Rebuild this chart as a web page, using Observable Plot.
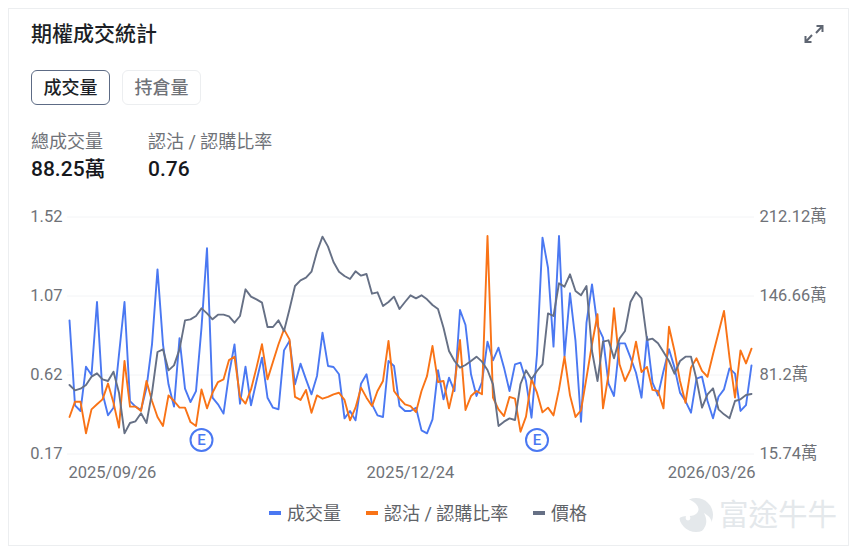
<!DOCTYPE html>
<html lang="zh-Hant">
<head>
<meta charset="utf-8">
<title>期權成交統計</title>
<script src="https://cdn.jsdelivr.net/npm/d3@7"></script>
<script src="https://cdn.jsdelivr.net/npm/@observablehq/plot@0.6"></script>
<style>
html,body{margin:0;padding:0;background:#fff;width:857px;height:552px;overflow:hidden;}
body{font-family:Roboto,"Noto Sans CJK TC",sans-serif;color:#1f2329;position:relative;}
.card{position:absolute;left:8px;top:8px;width:839px;height:536px;border:1px solid #eceef0;box-sizing:content-box;}
.abs{position:absolute;white-space:nowrap;line-height:1;}
.title{left:31px;top:24px;font-size:21px;font-weight:500;color:#1c1f26;}
.btn{top:70px;height:35px;width:79px;box-sizing:border-box;border-radius:6px;font-size:18px;display:flex;align-items:center;justify-content:center;}
.btn.on{left:31px;border:1.5px solid #5d6b85;color:#1c1f26;font-weight:500;}
.btn.off{left:122px;border:1.5px solid #eceef0;color:#6f7278;font-weight:500;}
.lab{top:133px;font-size:18px;color:#6f7278;}
.val{top:159px;font-size:21px;font-weight:500;color:#16181d;}
#chart{position:absolute;left:0;top:200px;}
.sw{position:absolute;top:511px;width:12px;height:4px;}
.leg{top:505px;font-size:18px;color:#5f6368;}
.wm{left:719px;top:501px;font-size:29.5px;color:#e4e8eb;}
</style>
</head>
<body>
<div class="card"></div>
<div class="abs title">期權成交統計</div>
<svg class="abs" style="left:804px;top:24px" width="20" height="20" viewBox="0 0 20 20" fill="none" stroke="#5f6672" stroke-width="2">
  <path d="M12 9 L18 2.5 M12.5 2 H18.5 V8"/><path d="M8 11 L2 17.5 M1.5 12 V18 H7.5"/>
</svg>
<div class="abs btn on">成交量</div>
<div class="abs btn off">持倉量</div>
<div class="abs lab" style="left:31px">總成交量</div>
<div class="abs lab" style="left:148px">認沽 / 認購比率</div>
<div class="abs val" style="left:31px">88.25萬</div>
<div class="abs val" style="left:148px">0.76</div>
<div id="chart"></div>
<div class="sw" style="left:269px;background:#4a78f2"></div>
<div class="abs leg" style="left:287px">成交量</div>
<div class="sw" style="left:366px;background:#f97316"></div>
<div class="abs leg" style="left:384px">認沽 / 認購比率</div>
<div class="sw" style="left:533px;background:#667085"></div>
<div class="abs leg" style="left:551px">價格</div>
<svg class="abs" style="left:677px;top:497px" width="38" height="38" viewBox="0 0 38 38">
  <circle cx="19" cy="18" r="17" fill="#e4e8eb"/>
  <path d="M9 1 C22 6 24 13 19 17 C14 21 5 17 2 22 L0 10 Z M22 37 C30 30 31 24 27 16 C34 20 38 26 32 34 Z" fill="#fff"/>
  <circle cx="11" cy="21" r="2.4" fill="#fff"/>
</svg>
<div class="abs wm">富途牛牛</div>
<script>
const leftTicks = [0.17, 0.62, 1.07, 1.52];
const rightTickLabels = ["15.74", "81.2", "146.66", "212.12"];
const dateLabels = ["2025/09/26", "2025/12/24", "2026/03/26"];
const earningsIdx = [24, 85];

const volume = [
126.5,56.1,51.4,88.1,81.2,141.7,66.0,47.8,54.1,98.3,
141.7,59.6,55.0,52.2,70.7,106.6,168.7,106.6,73.5,55.0,
111.6,69.9,58.8,67.9,120.4,186.2,62.4,56.9,49.2,81.8,
106.6,57.4,88.1,56.1,76.2,95.6,62.4,54.1,52.8,101.6,
109.4,73.5,90.6,77.6,65.2,80.4,116.3,88.7,87.8,81.8,
45.3,51.4,43.6,74.0,81.8,56.9,47.8,46.4,92.8,88.7,
55.5,51.4,51.4,54.1,35.3,32.9,44.5,85.1,61.0,79.0,
67.9,135.1,122.6,81.8,63.8,75.4,108.8,93.4,103.8,87.3,
67.9,90.0,91.4,76.2,45.8,98.3,195.0,170.1,104.7,196.4,
96.9,148.9,109.4,42.5,124.6,156.3,121.8,112.1,74.0,63.8,
107.4,107.4,95.6,83.1,62.4,112.7,74.8,64.3,84.5,102.5,
87.3,66.6,59.6,50.0,78.2,79.8,59.6,45.3,63.2,69.3,
86.7,82.3,51.4,56.3,89.2];

const ratio = [
.381,.468,.468,.288,.424,.453,.481,.571,.462,.320,
.700,.440,.440,.415,.586,.472,.381,.330,.504,.472,
.434,.434,.352,.330,.538,.430,.519,.580,.595,.705,
.724,.495,.457,.538,.662,.795,.595,.696,.795,.880,
.823,.495,.478,.535,.405,.504,.485,.495,.510,.519,
.478,.362,.434,.548,.491,.443,.529,.586,.814,.529,
.487,.453,.443,.409,.529,.614,.785,.580,.586,.430,
.567,.819,.421,.500,.529,.510,1.412,.491,.424,.386,
.495,.485,.297,.383,.595,.519,.407,.434,.390,.538,
.724,.504,.381,.419,.605,.795,.966,.430,.624,1.000,
.681,.586,.652,.810,.637,.666,.535,.529,.430,.895,
.757,.586,.462,.662,.715,.643,.610,.738,.861,.985,
.719,.491,.760,.686,.770];

const price = [
20.7,19.1,19.6,20.7,23.2,24.2,22.4,21.9,24.7,18.4,
6.2,9.3,9.8,12.2,9.3,18.4,30.6,31.4,25.1,26.6,
31.4,40.1,40.4,41.4,43.7,42.2,40.4,41.8,41.8,41.3,
39.4,41.4,49.4,47.2,46.4,45.4,38.1,38.1,40.1,36.9,
43.4,50.4,52.1,52.9,54.7,60.7,65.2,62.2,57.6,54.7,
53.4,52.5,54.8,53.5,54.0,48.1,48.5,44.4,45.6,47.2,
43.5,45.6,47.6,46.7,47.6,46.4,44.7,43.5,37.9,30.9,
27.9,25.9,26.7,27.9,29.2,27.7,25.2,20.9,8.4,9.7,
10.7,10.2,21.0,25.1,22.4,24.9,26.9,42.2,41.4,51.2,
50.2,53.9,48.9,47.6,50.4,30.9,21.9,33.7,34.1,28.7,
34.6,36.9,45.6,48.6,46.7,34.2,34.6,33.2,30.6,27.9,
24.1,27.9,29.2,29.2,22.4,13.9,17.9,19.7,13.4,11.9,
10.7,15.9,16.4,17.7,18.0];

const ratioDomain = [0.17, 1.52];
const volumeDomain = [15.74, 212.12];
const priceDomain = [0, 71.1];
// each series has its own hidden domain; all share the plot's left-axis scale
const rescale = (from) => d3.scaleLinear().domain(from).range(ratioDomain);
const volY = rescale(volumeDomain), priceY = rescale(priceDomain);
const blue = "#4a78f2", orange = "#f97316", gray = "#667085", axisGray = "#6f7278";
const idx = d3.range(ratio.length);
const eY = 0.25;
const tickFont = 16.5;

const plot = Plot.plot({
  width: 857, height: 290,
  marginLeft: 69, marginRight: 106, marginTop: 16.5, marginBottom: 36.5,
  x: {domain: [0, ratio.length - 1], axis: null},
  y: {domain: ratioDomain, axis: null},
  style: {fontFamily: 'Roboto,"Noto Sans CJK TC",sans-serif', background: "transparent"},
  marks: [
    Plot.ruleY(leftTicks, {stroke: "#f3f4f6", strokeWidth: 1, insetLeft: -2, insetRight: -3}),
    Plot.axisY(leftTicks, {anchor: "left", label: null, tickSize: 0, tickPadding: 7, fontSize: tickFont, fill: axisGray, tickFormat: d => d.toFixed(2)}),
    Plot.axisY(leftTicks, {anchor: "right", label: null, tickSize: 0, tickPadding: 8, fontSize: tickFont, fill: axisGray, tickFormat: (d, i) => rightTickLabels[i] + "萬"}),
    Plot.line(idx, {x: i => i, y: i => volY(volume[i]), stroke: blue, strokeWidth: 1.9, curve: "linear"}),
    Plot.line(idx, {x: i => i, y: i => ratio[i], stroke: orange, strokeWidth: 1.9, curve: "linear"}),
    Plot.line(idx, {x: i => i, y: i => priceY(price[i]), stroke: gray, strokeWidth: 1.9, curve: "linear"}),
    Plot.dot(earningsIdx, {x: d => d, y: () => eY, r: 11, fill: "#fff", stroke: blue, strokeWidth: 2}),
    Plot.text(earningsIdx, {x: d => d, y: () => eY, text: () => "E", fill: blue, fontSize: 15, fontWeight: 500}),
    Plot.text([dateLabels[0]], {x: () => 0, y: () => ratioDomain[0], text: d => d, textAnchor: "start", dx: -1, dy: 19, fontSize: tickFont, fill: axisGray}),
    Plot.text([dateLabels[1]], {x: () => 62, y: () => ratioDomain[0], text: d => d, textAnchor: "middle", dy: 19, fontSize: tickFont, fill: axisGray}),
    Plot.text([dateLabels[2]], {x: () => ratio.length - 1, y: () => ratioDomain[0], text: d => d, textAnchor: "end", dx: 4, dy: 19, fontSize: tickFont, fill: axisGray})
  ]
});
document.getElementById("chart").appendChild(plot);
</script>
</body>
</html>
